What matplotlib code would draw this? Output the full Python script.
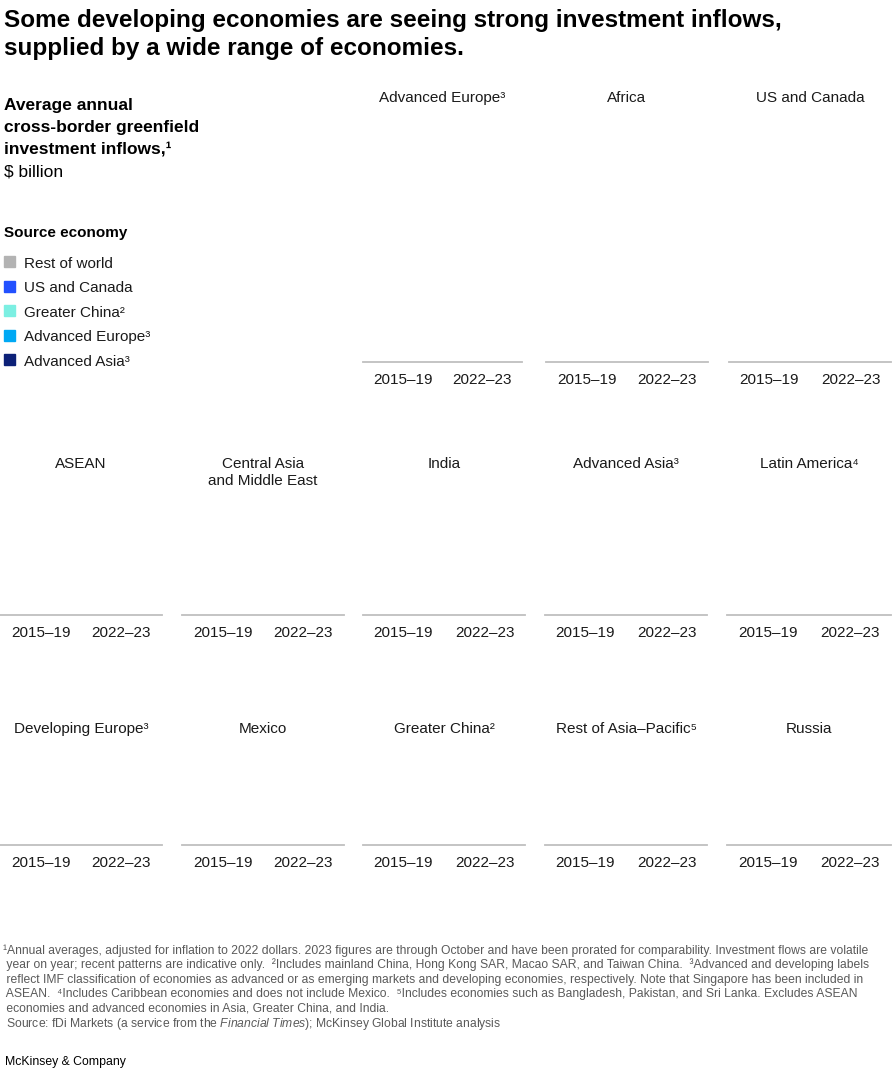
import matplotlib
matplotlib.use("Agg")
import matplotlib.pyplot as plt

plt.rcParams['font.family'] = ['Liberation Sans', 'DejaVu Sans']
plt.rcParams['mathtext.fontset'] = 'custom'
plt.rcParams['mathtext.rm'] = 'Liberation Sans'
plt.rcParams['mathtext.it'] = 'Liberation Sans:italic'

# --- data ---
periods = ["2015\u201319", "2022\u201323"]

sources = ["Rest of world", "US and Canada", "Greater China\u00b2",
           "Advanced Europe\u00b3", "Advanced Asia\u00b3"]
source_colors = ["#B3B3B3", "#2251FF", "#7CEFE2", "#00A9F4", "#0D2178"]

row1 = ["Advanced Europe\u00b3", "Africa", "US and Canada"]
row2 = ["ASEAN", "Central Asia\nand Middle East", "India",
        "Advanced Asia\u00b3", "Latin America\u2074"]
row3 = ["Developing Europe\u00b3", "Mexico", "Greater China\u00b2",
        "Rest of Asia\u2013Pacific\u2075", "Russia"]

notes = [
    "\u00b9Annual averages, adjusted for inflation to 2022 dollars. 2023 figures are through October "
    "and have been prorated for comparability. Investment flows are volatile",
    " year on year; recent patterns are indicative only.  \u00b2Includes mainland China, Hong Kong SAR, "
    "Macao SAR, and Taiwan China.  \u00b3Advanced and developing labels",
    " reflect IMF classification of economies as advanced or as emerging markets and developing "
    "economies, respectively. Note that Singapore has been included in",
    " ASEAN.  \u2074Includes Caribbean economies and does not include Mexico.  \u2075Includes "
    "economies such as Bangladesh, Pakistan, and Sri Lanka. Excludes ASEAN",
    " economies and advanced economies in Asia, Greater China, and India.",
    " Source: fDi Markets (a service from the $\\mathit{Financial\\ Times}$); "
    "McKinsey Global Institute analysis",
]

W, H = 894, 1080
fig = plt.figure(figsize=(W / 100, H / 100), dpi=100)


def fx(x):
    return x / W


def fy(y):
    return 1 - y / H


def panel(name, x0, x1, y_title, y_base):
    ax = fig.add_axes([fx(x0), fy(y_base), fx(x1 - x0), (y_base - y_title - 40) / H])
    ax.set_xlim(-0.5, 1.5)
    ax.set_ylim(0, 1)
    for s in ["top", "left", "right"]:
        ax.spines[s].set_visible(False)
    ax.spines["bottom"].set_color("#BFBFBF")
    ax.spines["bottom"].set_linewidth(1.3)
    ax.set_yticks([])
    ax.set_xticks([0, 1], periods)
    ax.tick_params(axis="x", length=0, pad=8, labelsize=11, colors="#1a1a1a")
    fig.text(fx((x0 + x1) / 2), fy(y_title), name, ha="center", va="top",
             fontsize=11, color="#1a1a1a", linespacing=1.3)
    return ax


cols1 = [(363, 522), (546, 708), (729, 891)]
cols = [(0, 162), (182, 344), (363, 525), (545, 707), (727, 891)]

for name, (a, b) in zip(row1, cols1):
    panel(name, a, b, 91, 362)
for name, (a, b) in zip(row2, cols):
    panel(name, a, b, 457, 615)
for name, (a, b) in zip(row3, cols):
    panel(name, a, b, 722, 845)

# --- title ---
title_lines = ["Some developing economies are seeing strong investment inflows,",
               "supplied by a wide range of economies."]
for i, line in enumerate(title_lines):
    fig.text(fx(4), fy(20 + 28 * i), line, ha="left", va="center",
             fontsize=17.5, fontweight="bold", color="#000000")

# --- left header ---
head = ["Average annual", "cross-border greenfield", "investment inflows,\u00b9"]
for i, line in enumerate(head):
    fig.text(fx(4), fy(104 + 22 * i), line, ha="left", va="center_baseline",
             fontsize=12.5, fontweight="bold", color="#000000")
fig.text(fx(4), fy(170), "$ billion", ha="left", va="center_baseline",
         fontsize=12.5, color="#000000")

fig.text(fx(4), fy(231), "Source economy", ha="left", va="center_baseline",
         fontsize=11, fontweight="bold", color="#000000")

for i, (lab, col) in enumerate(zip(sources, source_colors)):
    y = 262 + i * 24.6
    fig.patches.append(plt.Rectangle((fx(4), fy(y + 5)), fx(11), 11 / H,
                                     transform=fig.transFigure, color=col))
    fig.text(fx(24), fy(y), lab, ha="left", va="center_baseline",
             fontsize=11, color="#1a1a1a")

# --- footnotes ---
for i, line in enumerate(notes):
    fig.text(fx(3), fy(949 + 14.5 * i), line, ha="left", va="center_baseline",
             fontsize=8.75, color="#5a5a5a")

fig.text(fx(5), fy(1061), "McKinsey & Company", ha="left", va="center_baseline",
         fontsize=8.8, color="#000000")

fig.savefig("out.png", dpi=100)
